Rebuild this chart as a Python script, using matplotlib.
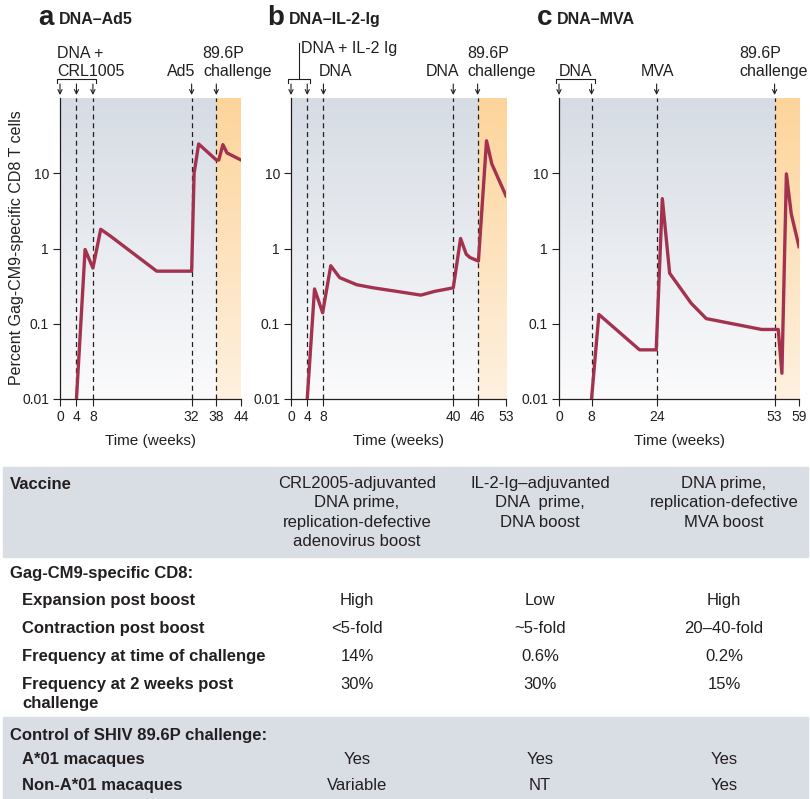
import numpy as np
import matplotlib.pyplot as plt
import matplotlib.colors as mcolors
from matplotlib.patches import Rectangle
from matplotlib.ticker import NullLocator

plt.rcParams['font.family'] = ['Liberation Sans', 'DejaVu Sans']

# ---- data ----
weeks_a = [4, 6.1, 8, 9.9, 12.2, 23.5, 32, 32.6, 33.7, 38, 38.6, 39.6, 40.6, 44]
cd8_a = [0.01, 0.97, 0.55, 1.8, 1.47, 0.5, 0.5, 10, 24.5, 15, 15, 24, 18.6, 15]

weeks_b = [4, 5.8, 7.8, 9.8, 12, 16.2, 20.3, 26.9, 32, 35.5, 40, 41.8, 43.2, 44.1, 46.2, 48.2, 49.5, 53]
cd8_b = [0.01, 0.29, 0.14, 0.59, 0.41, 0.33, 0.30, 0.265, 0.24, 0.27, 0.30, 1.36, 0.84, 0.76, 0.68, 27, 13.3, 5.0]

weeks_c = [8, 9.8, 19.8, 23.9, 25.4, 27.2, 32.5, 36.2, 49.8, 53.9, 54.8, 55.9, 57.1, 59]
cd8_c = [0.01, 0.133, 0.045, 0.045, 4.6, 0.47, 0.187, 0.117, 0.084, 0.084, 0.022, 9.8, 2.87, 1.06]

ticks_a = [0, 4, 8, 32, 38, 44]
ticks_b = [0, 4, 8, 40, 46, 53]
ticks_c = [0, 8, 24, 53, 59]

dashes_a = [4, 8, 32, 38]
dashes_b = [4, 8, 40, 46]
dashes_c = [8, 24, 53]

arrows_a = [0, 4, 8, 32, 38]
arrows_b = [0, 4, 8, 40, 46]
arrows_c = [0, 8, 24, 53]

challenge_a, challenge_b, challenge_c = 38, 46, 53

yticks = [0.01, 0.1, 1, 10]
ylabels = ['0.01', '0.1', '1', '10']

vaccine_hdr = [
    ['CRL2005-adjuvanted', 'DNA prime,', 'replication-defective', 'adenovirus boost'],
    ['IL-2-Ig\u2013adjuvanted', 'DNA  prime,', 'DNA boost'],
    ['DNA prime,', 'replication-defective', 'MVA boost'],
]
cd8_rows = ['Expansion post boost', 'Contraction post boost',
            'Frequency at time of challenge', 'Frequency at 2 weeks post\nchallenge']
cd8_vals = [['High', 'Low', 'High'],
            ['<5-fold', '~5-fold', '20\u201340-fold'],
            ['14%', '0.6%', '0.2%'],
            ['30%', '30%', '15%']]
ctrl_rows = ['A*01 macaques', 'Non-A*01 macaques']
ctrl_vals = [['Yes', 'Yes', 'Yes'], ['Variable', 'NT', 'Yes']]

# ---- figure ----
W, H = 810, 799
fig = plt.figure(figsize=(W / 100, H / 100), dpi=100)
ink = '#231f20'
red = '#a3324f'


def box(l, t, r, b):
    return [l / W, 1 - b / H, (r - l) / W, (b - t) / H]


def ftext(x, y, s, **kw):
    kw.setdefault('va', 'baseline')
    kw.setdefault('color', ink)
    return fig.text(x / W, 1 - y / H, s, **kw)


def gradient(ax, x0, x1, top, bottom):
    g = np.linspace(0, 1, 256)[:, None, None]
    c0 = np.array(mcolors.to_rgb(top))
    c1 = np.array(mcolors.to_rgb(bottom))
    img = c0 * (1 - g) + c1 * g
    ax.imshow(img, extent=[x0, x1, 0, 1], transform=ax.transAxes,
              aspect='auto', zorder=0, interpolation='bilinear')


TOP = 98
BOT = 399


def panel(l, r, weeks, cd8, ticks, dashes, arrows, challenge, brk):
    ax = fig.add_axes(box(l, TOP, r, BOT))
    xmax = ticks[-1]
    gradient(ax, 0, challenge / xmax, '#d6dce4', '#fbfbfc')
    gradient(ax, challenge / xmax, 1, '#fdd49a', '#fdf1e0')
    ax.set_yscale('log')
    ax.set_xlim(0, xmax)
    ax.set_ylim(0.01, 100)
    ax.patch.set_alpha(0)
    for w in dashes:
        ax.axvline(w, color=ink, lw=0.9, ls=(0, (4, 3)), zorder=2)
    ax.plot(weeks, cd8, color=red, lw=2.4, solid_joinstyle='round', zorder=3)
    ax.set_xticks(ticks)
    ax.set_xticklabels([str(t) for t in ticks])
    ax.set_yticks(yticks)
    ax.set_yticklabels(ylabels)
    ax.yaxis.set_minor_locator(NullLocator())
    ax.tick_params(direction='out', length=5, width=0.8, labelsize=10,
                   colors=ink, pad=3)
    for s in ['top', 'right']:
        ax.spines[s].set_visible(False)
    for s in ['left', 'bottom']:
        ax.spines[s].set_color(ink)
        ax.spines[s].set_linewidth(0.9)
    ax.set_xlabel('Time (weeks)', fontsize=11, color=ink, labelpad=7)

    # arrows and bracket above the axes
    hpx = BOT - TOP
    fy = lambda ypx: 1 + (TOP - ypx) / hpx
    tr = ax.get_xaxis_transform()
    for w in arrows:
        ax.annotate('', xy=(w, fy(95)), xytext=(w, fy(84)), xycoords=tr,
                    textcoords=tr,
                    arrowprops=dict(arrowstyle='->,head_length=0.3,head_width=0.15',
                                    color=ink, lw=0.8, shrinkA=0, shrinkB=0))
    pad = 3 * xmax / (r - l)
    b0, b1 = brk[0] - pad, brk[1] + pad
    ax.plot([b0, b0, b1, b1], [fy(83), fy(79), fy(79), fy(83)], transform=tr,
            color=ink, lw=0.8, clip_on=False)
    return ax, tr, fy


ax_a, tr_a, fy = panel(60, 241, weeks_a, cd8_a, ticks_a, dashes_a, arrows_a, challenge_a, (0, 8))
ax_b, tr_b, _ = panel(291, 506, weeks_b, cd8_b, ticks_b, dashes_b, arrows_b, challenge_b, (0, 4))
ax_c, tr_c, _ = panel(559, 799, weeks_c, cd8_c, ticks_c, dashes_c, arrows_c, challenge_c, (0, 8))

# stem from the IL-2 Ig bracket
ax_b.plot([2, 2], [fy(79), fy(43)], transform=tr_b, color=ink, lw=0.8, clip_on=False)

# panel titles
ftext(38, 25, 'a', fontsize=20, fontweight='bold')
ftext(59, 24, 'DNA\u2013Ad5', fontsize=11.5, fontweight='bold')
ftext(267, 25, 'b', fontsize=20, fontweight='bold')
ftext(289, 24, 'DNA\u2013IL-2-Ig', fontsize=11.5, fontweight='bold')
ftext(537, 25, 'c', fontsize=20, fontweight='bold')
ftext(557, 24, 'DNA\u2013MVA', fontsize=11.5, fontweight='bold')

# event labels
fs = 11.5
ftext(57, 58, 'DNA +', fontsize=fs)
ftext(57, 76, 'CRL1005', fontsize=fs)
ftext(181, 76, 'Ad5', fontsize=fs, ha='center')
ftext(202, 58, '89.6P', fontsize=fs)
ftext(203, 76, 'challenge', fontsize=fs)

ftext(301, 53, 'DNA + IL-2 Ig', fontsize=fs)
ftext(336, 76, 'DNA', fontsize=fs, ha='center')
ftext(442, 76, 'DNA', fontsize=fs, ha='center')
ftext(467, 58, '89.6P', fontsize=fs)
ftext(467, 76, 'challenge', fontsize=fs)

ftext(576, 76, 'DNA', fontsize=fs, ha='center')
ftext(658, 76, 'MVA', fontsize=fs, ha='center')
ftext(739, 58, '89.6P', fontsize=fs)
ftext(739, 76, 'challenge', fontsize=fs)

ftext(17, 248, 'Percent Gag-CM9-specific CD8 T cells', fontsize=11.5,
      rotation=90, ha='center', va='center')

# ---- table ----
grey = '#d9dee5'
fig.patches.append(Rectangle((3 / W, 1 - 557 / H), 805 / W, 90 / H,
                             transform=fig.transFigure, color=grey, zorder=0))
fig.patches.append(Rectangle((3 / W, 0), 805 / W, (H - 717) / H,
                             transform=fig.transFigure, color=grey, zorder=0))

cols = [357, 540, 724]
tfs = 12
ftext(10, 489, 'Vaccine', fontsize=tfs, fontweight='bold')
for cx, lines in zip(cols, vaccine_hdr):
    for i, line in enumerate(lines):
        ftext(cx, 488 + 19.3 * i, line, fontsize=tfs, ha='center')

ftext(10, 578, 'Gag-CM9-specific CD8:', fontsize=tfs, fontweight='bold')
for i, (name, vals) in enumerate(zip(cd8_rows, cd8_vals)):
    y = 605 + 28 * i
    for j, part in enumerate(name.split('\n')):
        ftext(22, y + 19 * j, part, fontsize=tfs, fontweight='bold')
    for cx, v in zip(cols, vals):
        ftext(cx, y, v, fontsize=tfs, ha='center')

ftext(10, 740, 'Control of SHIV 89.6P challenge:', fontsize=tfs, fontweight='bold')
for i, (name, vals) in enumerate(zip(ctrl_rows, ctrl_vals)):
    y = 764 + 26 * i
    ftext(22, y, name, fontsize=tfs, fontweight='bold')
    for cx, v in zip(cols, vals):
        ftext(cx, y, v, fontsize=tfs, ha='center')

fig.savefig('out.png', dpi=100)
